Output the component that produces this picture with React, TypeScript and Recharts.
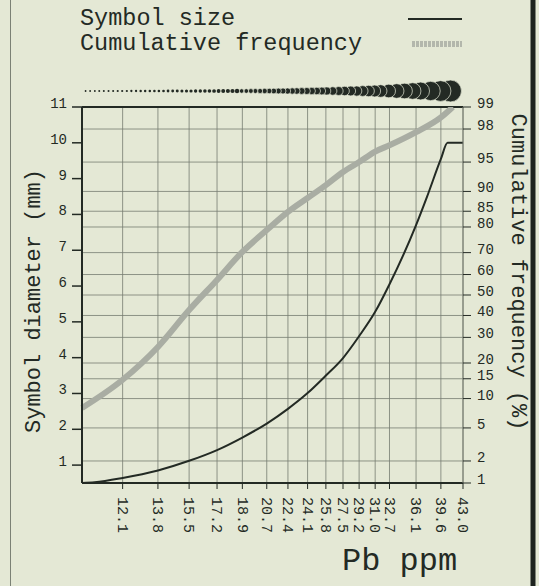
import {
  ComposedChart,
  Line,
  Scatter,
  XAxis,
  YAxis,
  CartesianGrid,
  ReferenceLine,
} from "recharts";

// Pb axis ticks (log scale)
const pbTicks = [12.1, 13.8, 15.5, 17.2, 18.9, 20.7, 22.4, 24.1, 25.8, 27.5, 29.2, 31.0, 32.7, 36.1, 39.6, 43.0];
// left axis: symbol diameter (mm)
const diameterTicks = [1, 2, 3, 4, 5, 6, 7, 8, 9, 10, 11];
// right axis: cumulative frequency (%), probability scale
const freqTicks = [1, 2, 5, 10, 15, 20, 30, 40, 50, 60, 70, 80, 85, 90, 95, 98, 99];

// symbol size curve
const sizePb = [10.4, 10.9, 12.1, 13.8, 15.5, 17.2, 18.9, 20.7, 22.4, 24.1, 25.8, 27.5, 29.2, 31.0, 32.7, 36.1, 37.6, 39.6, 40.6, 43.0];
const sizeMm = [0.5, 0.52, 0.64, 0.85, 1.12, 1.42, 1.77, 2.16, 2.57, 3.01, 3.5, 3.99, 4.6, 5.28, 6.05, 7.7, 8.49, 9.55, 10.0, 10.0];

// cumulative frequency curve
const freqPb = [10.4, 12.1, 13.8, 15.5, 17.2, 18.9, 20.7, 22.4, 24.1, 25.8, 27.5, 29.2, 31.0, 32.7, 36.1, 39.6, 41.4];
const freqPct = [8.1, 14.7, 26, 42.6, 57.4, 70.3, 78.9, 84.8, 88.5, 91.3, 93.6, 95.0, 96.2, 96.8, 97.8, 98.6, 99.0];

// row of symbols above the plot
const symbolPb = [
  10.54, 10.72, 10.91, 11.09, 11.28, 11.48, 11.68, 11.88, 12.08, 12.29, 12.5, 12.72, 12.94, 13.16,
  13.39, 13.62, 13.85, 14.09, 14.33, 14.58, 14.83, 15.09, 15.35, 15.61, 15.88, 16.16, 16.44, 16.72,
  17.01, 17.3, 17.6, 17.91, 18.22, 18.53, 18.85, 19.18, 19.51, 19.84, 20.19, 20.54, 20.89, 21.25,
  21.62, 21.99, 22.37, 22.76, 23.15, 23.58, 24.03, 24.48, 24.94, 25.41, 25.88, 26.46, 27.06, 27.67,
  28.3, 28.94, 29.59, 30.26, 30.94, 31.64, 32.6, 33.58, 34.59, 35.64, 36.72, 38.11, 39.55, 41.05,
];
const symbolMm = [
  0.5, 0.5, 0.5, 0.55, 0.57, 0.6, 0.62, 0.64, 0.67, 0.69, 0.71, 0.73, 0.76, 0.78,
  0.81, 0.84, 0.87, 0.9, 0.94, 0.98, 1.02, 1.07, 1.11, 1.16, 1.2, 1.25, 1.3, 1.34,
  1.39, 1.44, 1.5, 1.56, 1.63, 1.7, 1.77, 1.84, 1.91, 1.98, 2.06, 2.14, 2.22, 2.31,
  2.4, 2.49, 2.58, 2.67, 2.77, 2.88, 2.99, 3.1, 3.22, 3.34, 3.48, 3.66, 3.86, 4.08,
  4.3, 4.5, 4.74, 5.02, 5.3, 5.64, 6.12, 6.6, 7.05, 7.55, 8.1, 8.8, 9.5, 10.0,
];

const INK = "#232a24";
const GRID = "#767c71";
const FREQ_GRAY = "#a9ada3";
const PAPER = "#e4e8d5";
const MONO = '"Liberation Mono", "DejaVu Sans Mono", monospace';

// inverse normal CDF (Acklam), for the probability axis
function probit(p: number): number {
  const a = [-39.69683028665376, 220.9460984245205, -275.9285104469687, 138.357751867269, -30.66479806614716, 2.506628277459239];
  const b = [-54.47609879822406, 161.5858368580409, -155.6989798598866, 66.80131188771972, -13.28068155288572];
  const c = [-0.007784894002430293, -0.3223964580411365, -2.400758277161838, -2.549671010229528, 4.374664141464968, 2.938163982698783];
  const d = [0.007784695709041462, 0.3224671290700398, 2.445134137142996, 3.754408661907416];
  const lo = 0.02425;
  if (p < lo) {
    const q = Math.sqrt(-2 * Math.log(p));
    return (((((c[0] * q + c[1]) * q + c[2]) * q + c[3]) * q + c[4]) * q + c[5]) / ((((d[0] * q + d[1]) * q + d[2]) * q + d[3]) * q + 1);
  }
  if (p <= 1 - lo) {
    const q = p - 0.5;
    const r = q * q;
    return ((((((a[0] * r + a[1]) * r + a[2]) * r + a[3]) * r + a[4]) * r + a[5]) * q) / (((((b[0] * r + b[1]) * r + b[2]) * r + b[3]) * r + b[4]) * r + 1);
  }
  const q = Math.sqrt(-2 * Math.log(1 - p));
  return -(((((c[0] * q + c[1]) * q + c[2]) * q + c[3]) * q + c[4]) * q + c[5]) / ((((d[0] * q + d[1]) * q + d[2]) * q + d[3]) * q + 1);
}

const sizeData = sizePb.map((pb, i) => ({ pb, mm: sizeMm[i] }));
const freqData = freqPb.map((pb, i) => ({ pb, z: probit(freqPct[i] / 100) }));
// drawn biggest first so the smaller ones overlap them
const symbolData = symbolPb.map((pb, i) => ({ pb, y: 11, mm: symbolMm[i] })).reverse();
const zTicks = freqTicks.map((p) => probit(p / 100));

function freqLabel(v: number) {
  const hit = freqTicks.find((p) => Math.abs(probit(p / 100) - v) < 1e-6);
  return hit === undefined ? "" : String(hit);
}

function PbTick({ x, y, payload }: any) {
  return (
    <g transform={`translate(${x},${y})`}>
      <text transform="rotate(90)" x={6} y={0} dy="0.32em" textAnchor="start" fill={INK} fontSize={15} fontFamily={MONO}>
        {Number(payload.value).toFixed(1)}
      </text>
    </g>
  );
}

// symbols sit in a row just above the frame
function SymbolDot({ cx, cy, payload }: any) {
  const r = 0.4 + payload.mm * 1.05;
  return (
    <circle
      cx={cx}
      cy={cy - 16}
      r={r}
      fill={INK}
      stroke={r > 2.2 ? PAPER : "none"}
      strokeWidth={0.7}
    />
  );
}

export default function App() {
  return (
    <div style={{ position: "fixed", left: 0, top: 0, width: 539, height: 586, background: PAPER, overflow: "hidden" }}>
      <ComposedChart width={539} height={586} margin={{ top: 107, right: 0, left: 32, bottom: 0 }}>
        <CartesianGrid yAxisId="right" stroke={GRID} strokeWidth={0.8} />
        <XAxis
          dataKey="pb"
          type="number"
          scale="log"
          domain={[10.4, 43]}
          ticks={pbTicks}
          interval={0}
          height={103}
          tickSize={6}
          axisLine={{ stroke: INK, strokeWidth: 2 }}
          tickLine={{ stroke: INK }}
          tick={<PbTick />}
        />
        <YAxis
          yAxisId="left"
          orientation="left"
          width={50}
          type="number"
          domain={[0.5, 11]}
          ticks={diameterTicks}
          interval={0}
          tickSize={10}
          tickMargin={5}
          axisLine={{ stroke: INK, strokeWidth: 2 }}
          tickLine={{ stroke: INK, strokeWidth: 1.5 }}
          tick={{ fill: INK, fontSize: 14, fontFamily: MONO, dy: -4 }}
        />
        <YAxis
          yAxisId="right"
          orientation="right"
          width={76}
          type="number"
          domain={[zTicks[0], zTicks[zTicks.length - 1]]}
          allowDataOverflow
          ticks={zTicks}
          interval={0}
          tickSize={8}
          tickMargin={6}
          tickFormatter={freqLabel}
          axisLine={{ stroke: GRID, strokeWidth: 1 }}
          tickLine={{ stroke: INK }}
          tick={{ fill: INK, fontSize: 14, fontFamily: MONO, dy: -4 }}
        />
        <ReferenceLine yAxisId="left" y={11} stroke={INK} strokeWidth={2} />
        <Line
          data={freqData}
          dataKey="z"
          yAxisId="right"
          type="monotone"
          stroke={FREQ_GRAY}
          strokeWidth={6}
          dot={false}
          isAnimationActive={false}
        />
        <Line
          data={sizeData}
          dataKey="mm"
          yAxisId="left"
          type="monotone"
          stroke={INK}
          strokeWidth={2}
          dot={false}
          isAnimationActive={false}
        />
        <Scatter data={symbolData} dataKey="y" yAxisId="left" shape={<SymbolDot />} isAnimationActive={false} />
      </ComposedChart>

      <svg width={539} height={586} style={{ position: "absolute", left: 0, top: 0, pointerEvents: "none" }}>
        <line x1={10.5} x2={10.5} y1={0} y2={586} stroke="#7b8175" strokeWidth={1} />
        <line x1={533} x2={533} y1={0} y2={586} stroke="#1d231e" strokeWidth={5} />
        <g fontFamily={MONO} fill={INK}>
          <text x={80} y={25} fontSize={23.5}>Symbol size</text>
          <text x={80} y={50} fontSize={23.5}>Cumulative frequency</text>
          <text transform="translate(34,301) rotate(-90)" textAnchor="middle" dominantBaseline="central" fontSize={22}>
            Symbol diameter (mm)
          </text>
          <text transform="translate(517,272) rotate(90)" textAnchor="middle" dominantBaseline="central" fontSize={22}>
            Cumulative frequency (%)
          </text>
          <text x={342} y={570} fontSize={32}>Pb ppm</text>
        </g>
        <line x1={408} x2={462} y1={19} y2={19} stroke={INK} strokeWidth={2} />
        <line x1={412} x2={462} y1={44} y2={44} stroke="#b3b7ac" strokeWidth={6} strokeDasharray="3 1" />
      </svg>
    </div>
  );
}
